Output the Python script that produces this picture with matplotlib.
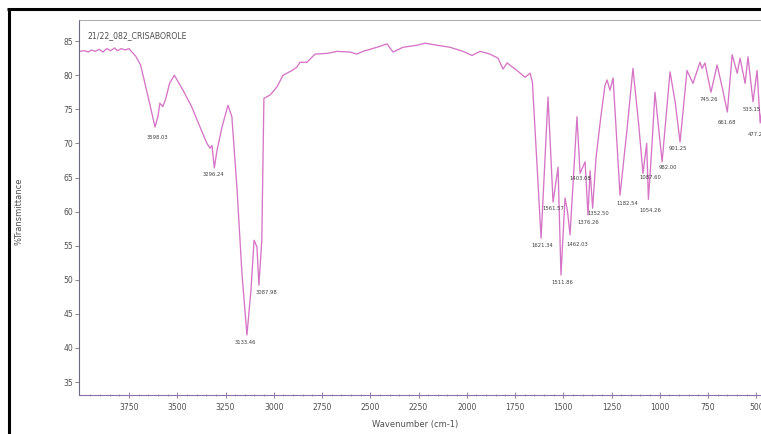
import matplotlib
matplotlib.use("Agg")
import matplotlib.pyplot as plt
from matplotlib.lines import Line2D

# ---------------- data ----------------
wavenumber = [4005, 3980, 3960, 3945, 3925, 3905, 3885, 3865, 3845, 3825, 3810, 3790,
              3770, 3750, 3735, 3715, 3690, 3665, 3640, 3615, 3600, 3590, 3575, 3560,
              3540, 3515, 3470, 3424, 3382, 3346, 3330, 3320, 3308, 3294, 3268, 3237,
              3217, 3190, 3165, 3139, 3118, 3102, 3087, 3077, 3062, 3051, 3019, 2983,
              2952, 2905, 2880, 2864, 2828, 2786, 2724, 2672, 2605, 2569, 2538, 2465,
              2413, 2398, 2382, 2330, 2258, 2216, 2154, 2087, 2019, 1973, 1931, 1880,
              1838, 1812, 1791, 1740, 1698, 1672, 1660, 1615, 1579, 1553, 1527, 1512,
              1491, 1478, 1465, 1429, 1413, 1387, 1372, 1361, 1348, 1330, 1305, 1284,
              1273, 1258, 1242, 1222, 1206, 1170, 1139, 1110, 1087, 1068, 1059, 1040,
              1025, 988, 947, 920, 895, 859, 828, 792, 781, 766, 735, 703, 675, 650,
              625, 599, 584, 558, 543, 517, 496, 480, 465, 440, 400]
transmittance = [83.5, 83.6, 83.4, 83.7, 83.5, 83.8, 83.4, 83.9, 83.6, 84.0, 83.6, 83.9,
                 83.7, 83.9, 83.4, 82.8, 81.5, 78.5, 75.5, 72.4, 74.0, 75.9, 75.4, 76.5,
                 78.8, 80.0, 77.8, 75.3, 72.4, 70.0, 69.3, 69.7, 66.4, 69.0, 72.4, 75.6,
                 73.9, 63.2, 51.0, 41.9, 48.5, 55.8, 54.8, 49.2, 55.8, 76.6, 77.1, 78.3,
                 80.0, 80.7, 81.2, 81.9, 81.9, 83.1, 83.2, 83.5, 83.4, 83.1, 83.5, 84.1,
                 84.6, 84.0, 83.4, 84.1, 84.4, 84.7, 84.4, 84.1, 83.5, 82.9, 83.5, 83.1,
                 82.5, 80.9, 81.8, 80.7, 79.7, 80.3, 79.0, 56.1, 76.8, 61.4, 66.5, 50.7,
                 62.0, 60.0, 56.6, 73.9, 65.6, 67.3, 59.5, 66.0, 60.5, 68.0, 74.0, 78.5,
                 79.3, 77.8, 79.6, 70.0, 62.4, 72.0, 81.0, 73.0, 65.6, 70.0, 61.8, 70.0,
                 77.5, 67.3, 80.5, 76.0, 70.2, 80.7, 78.8, 81.9, 81.0, 81.8, 77.5, 81.5,
                 78.0, 74.6, 83.0, 80.3, 82.5, 78.8, 82.7, 76.1, 80.7, 73.0, 76.0, 80.0, 79.0]

peak_wn = [3615, 3308, 3139, 3077, 1615, 1553, 1512, 1465, 1413, 1372, 1348,
           1206, 1087, 1059, 988, 895, 735, 650, 517, 480]
peak_labels = ["3598.03", "3296.24", "3133.46", "3087.98", "1621.34", "1561.57",
               "1511.86", "1462.03", "1403.08", "1376.26", "1352.50", "1182.54",
               "1087.60", "1054.26", "982.00", "901.25", "745.26", "661.68",
               "533.15", "477.21"]
# label offsets (pixels) relative to the peak minimum
label_dx = [2, -1, -2, 8, 1, 0, 1, 7, 0, 0, 6, 7, 7, 2, 6, -2, -2, 0, -1, -3]
label_dy = [-10, -7, -8, -7, -7, -6, -7, -10, -5, -8, -5, -8, -4, -11, -6, -6, -7, -10, -8, -12]

x_ticks = [3750, 3500, 3250, 3000, 2750, 2500, 2250, 2000, 1750, 1500, 1250, 1000, 750, 500]
y_ticks = [35, 40, 45, 50, 55, 60, 65, 70, 75, 80, 85]

title = "21/22_082_CRISABOROLE"
x_label = "Wavenumber (cm-1)"
y_label = "%Transmittance"

# ---------------- figure ----------------
W, H = 761, 434
fig = plt.figure(figsize=(W / 100, H / 100), dpi=100)
fig.patch.set_facecolor("white")

left, right, top, bottom = 79, 775.6, 20, 395
ax = fig.add_axes([left / W, (H - bottom) / H, (right - left) / W, (bottom - top) / H])

line_color = "#d674c6"
ax.plot(wavenumber, transmittance, color=line_color, lw=0.95)

ax.set_xlim(4009, 400)
ax.set_ylim(33.1, 88.1)

txt_color = "#505050"
ax.set_xticks(x_ticks)
ax.set_yticks(y_ticks)
ax.set_xticks(list(range(3950, 399, -50)), minor=True)
ax.tick_params(axis="x", which="major", direction="inout", length=4, width=0.6,
               color="#8a6fa8", labelsize=5.5, labelcolor=txt_color, pad=4)
ax.tick_params(axis="x", which="minor", direction="inout", length=2, width=0.5,
               color="#8a6fa8")
ax.tick_params(axis="y", which="major", direction="out", length=3, width=0.6,
               color="#777777", labelsize=5.5, labelcolor=txt_color, pad=1)

ax.spines["right"].set_visible(False)
ax.spines["left"].set_color("#6a6a80")
ax.spines["left"].set_linewidth(0.8)
ax.spines["top"].set_color("#9a9aa8")
ax.spines["top"].set_linewidth(0.6)
ax.spines["bottom"].set_color("#8a6fa8")
ax.spines["bottom"].set_linewidth(0.8)

ax.text(0.012, 0.97, title, transform=ax.transAxes, fontsize=5.6, color=txt_color,
        ha="left", va="top")

fig.text(415 / W, 1 - 425 / H, x_label, fontsize=6, color=txt_color,
         ha="center", va="center")
fig.text(19 / W, 1 - 211 / H, y_label, fontsize=6, color=txt_color,
         ha="center", va="center", rotation=90)

lookup = dict(zip(wavenumber, transmittance))
for wn, lab, dx, dy in zip(peak_wn, peak_labels, label_dx, label_dy):
    ax.annotate(lab, xy=(wn, lookup[wn]), xytext=(dx, dy), textcoords="offset pixels",
                fontsize=3.8, color="#404040", ha="center", va="center",
                annotation_clip=False)

# outer frame (left and top edges visible)
fig.add_artist(Line2D([8.5 / W, 8.5 / W], [0, 1 - 8.5 / H], transform=fig.transFigure,
                      color="black", lw=2.2, solid_capstyle="butt"))
fig.add_artist(Line2D([7.4 / W, 1], [1 - 8.5 / H, 1 - 8.5 / H], transform=fig.transFigure,
                      color="black", lw=2.2, solid_capstyle="butt"))

fig.savefig("out.png", dpi=100, facecolor="white")
